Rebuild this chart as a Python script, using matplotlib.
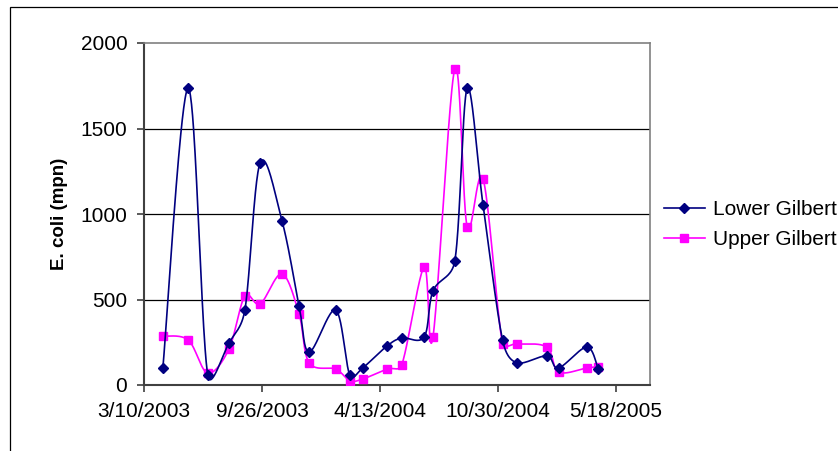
import numpy as np
import pandas as pd
import matplotlib
matplotlib.use("Agg")
import matplotlib.pyplot as plt
import matplotlib.dates as mdates
from matplotlib.patches import Rectangle
from matplotlib.lines import Line2D

plt.rcParams['font.family'] = ['Liberation Sans', 'DejaVu Sans']

# ---- data ----
sample_dates = ["2003-04-11", "2003-05-24", "2003-06-26", "2003-08-01", "2003-08-28",
                "2003-09-23", "2003-10-30", "2003-11-28", "2003-12-15", "2004-01-29",
                "2004-02-22", "2004-03-15", "2004-04-25", "2004-05-20", "2004-06-27",
                "2004-07-12", "2004-08-18", "2004-09-08", "2004-10-05", "2004-11-07",
                "2004-12-01", "2005-01-21", "2005-02-10", "2005-03-30", "2005-04-18"]
lower_gilbert = [100, 1735, 60, 245, 438, 1300, 960, 462, 193, 438,
                 58, 100, 228, 275, 281, 550, 725, 1735, 1050, 263,
                 130, 170, 100, 222, 95]
upper_gilbert = [286, 263, 70, 210, 520, 474, 650, 415, 130, 93,
                 25, 35, 93, 117, 690, 281, 1850, 925, 1205, 240,
                 240, 222, 76, 100, 107]
x_tick_labels = ["3/10/2003", "9/26/2003", "4/13/2004", "10/30/2004", "5/18/2005"]
y_ticks = [0, 500, 1000, 1500, 2000]
series_names = ["Lower Gilbert", "Upper Gilbert"]

W, H = 838, 451
fig = plt.figure(figsize=(W / 100, H / 100), dpi=100)
ax = fig.add_axes([144 / W, 1 - 385 / H, (650 - 144) / W, (385 - 43) / H])

dates = pd.to_datetime(sample_dates)
xnum = mdates.date2num(dates)
tick_pos = mdates.date2num(pd.to_datetime(x_tick_labels, format="%m/%d/%Y"))

x0 = tick_pos[0]
x1 = x0 + 858
ax.set_xlim(x0, x1)
ax.set_ylim(0, 2000)


def smooth_curve(ax, x, y, n=40, t=1 / 6):
    """Excel-like smoothed line: cubic Bezier with arm lengths limited
    to half of the segment length (computed in display space)."""
    pts = ax.transData.transform(np.column_stack([x, y]))
    P = np.vstack([pts[0], pts, pts[-1]])
    out = []
    for i in range(1, len(P) - 2):
        p0, p1, p2, p3 = P[i - 1], P[i], P[i + 1], P[i + 2]
        d02 = np.linalg.norm(p2 - p0)
        d13 = np.linalg.norm(p3 - p1)
        d12 = np.linalg.norm(p2 - p1)
        f1 = t
        f2 = t
        if d02 * t > d12 / 2 and d02 > 0:
            f1 = d12 / (2 * d02)
        if d13 * t > d12 / 2 and d13 > 0:
            f2 = d12 / (2 * d13)
        c1 = p1 + (p2 - p0) * f1
        c2 = p2 - (p3 - p1) * f2
        s = np.linspace(0, 1, n)[:, None]
        seg = ((1 - s) ** 3) * p1 + 3 * ((1 - s) ** 2) * s * c1 + 3 * (1 - s) * s ** 2 * c2 + s ** 3 * p2
        out.append(seg if i == 1 else seg[1:])
    out = np.vstack(out)
    d = ax.transData.inverted().transform(out)
    return d[:, 0], d[:, 1]


navy = "#000080"
magenta = "#FF00FF"

# gridlines
for yv in y_ticks[1:-1]:
    ax.axhline(yv, color="black", lw=0.9, zorder=1)

sx, sy = smooth_curve(ax, xnum, upper_gilbert)
ax.plot(sx, sy, color=magenta, lw=1.2, zorder=2)
ax.plot(xnum, upper_gilbert, ls="none", marker="s", ms=6, color=magenta, zorder=3)

sx, sy = smooth_curve(ax, xnum, lower_gilbert)
ax.plot(sx, sy, color=navy, lw=1.2, zorder=4)
ax.plot(xnum, lower_gilbert, ls="none", marker="D", ms=5.5, color=navy, zorder=5)

ax.set_xticks(tick_pos)
ax.set_xticklabels(x_tick_labels)
ax.set_yticks(y_ticks)
ax.set_yticklabels([str(v) for v in y_ticks])
ax.tick_params(axis="both", direction="out", length=5, width=1.2, color="#404040",
               labelsize=15, labelcolor="black")
ax.tick_params(axis="x", pad=7)
ax.tick_params(axis="y", pad=7)

for side in ["left", "bottom"]:
    ax.spines[side].set_color("#404040")
    ax.spines[side].set_linewidth(1.5)
for side in ["right", "top"]:
    ax.spines[side].set_color("#808080")
    ax.spines[side].set_linewidth(1.2)

fig.text(59 / W, 1 - 214 / H, "E. coli (mpn)", rotation=90, ha="center", va="center",
         fontsize=13.5, fontweight="bold")

handles = [Line2D([], [], color=navy, lw=1.2, marker="D", ms=5.5),
           Line2D([], [], color=magenta, lw=1.2, marker="s", ms=6)]
fig.legend(handles, series_names, loc="upper left",
           bbox_to_anchor=(664 / W, 1 - 200 / H), frameon=False,
           fontsize=15, handlelength=1.95, handletextpad=0.4,
           labelspacing=0.55, borderpad=0, borderaxespad=0)

fig.add_artist(Rectangle((10 / W, -0.1), 2.0, (451 - 7) / H + 0.1,
                         transform=fig.transFigure, fill=False,
                         edgecolor="black", lw=0.9))

fig.savefig("out.png", dpi=100)
